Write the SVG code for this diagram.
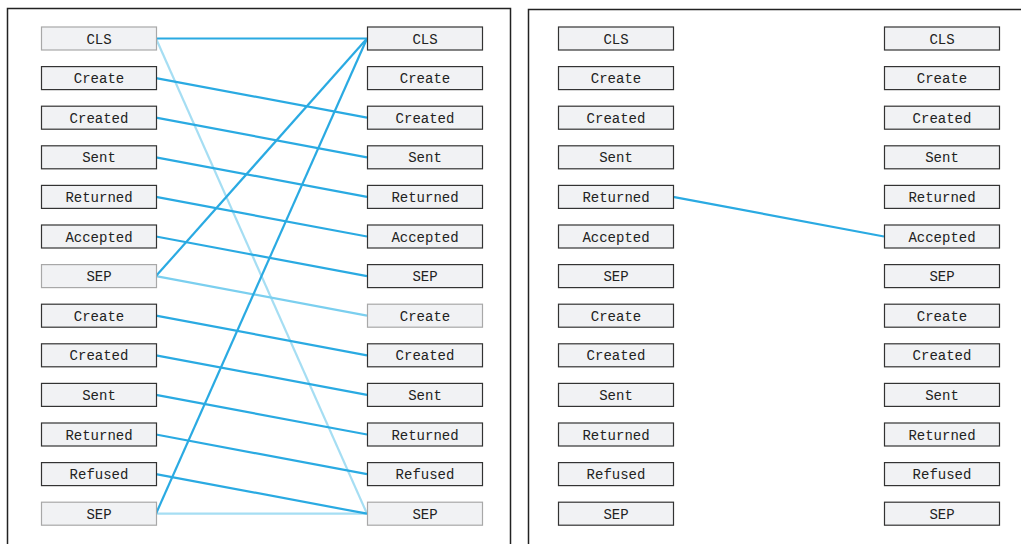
<svg xmlns="http://www.w3.org/2000/svg" width="1021" height="544" viewBox="0 0 1021 544">
  <style>
    .panel { fill: #ffffff; stroke: #222222; stroke-width: 1.5; }
    .box { fill: #f1f2f4; stroke: #333333; stroke-width: 1.2; }
    .box.faint { stroke: #a8a8a8; }
    .lbl { font-family: "Liberation Mono", "DejaVu Sans Mono", monospace; font-size: 14px; fill: #222222; text-anchor: middle; dominant-baseline: central; }
    .link { fill: none; stroke: #2aaae2; stroke-width: 2.2; }
    .link.pale { stroke: #a6def3; }
    .link.mid { stroke: #7bcfef; }
  </style>

  <!-- panels -->
  <rect class="panel" x="7.5" y="8.5" width="503" height="560"/>
  <rect class="panel" x="528.5" y="9.5" width="520" height="560"/>

  <!-- connectors -->
  <g id="connectors">
    <!-- left panel -->
    <line class="link pale" x1="156" y1="38.5" x2="367" y2="513.7"/>
    <line class="link pale" x1="156" y1="513.7" x2="367" y2="513.7"/>
    <line class="link mid" x1="156" y1="276.1" x2="367" y2="315.7"/>
    <line class="link" x1="156" y1="38.5" x2="367" y2="38.5"/>
    <line class="link" x1="156" y1="78.1" x2="367" y2="117.7"/>
    <line class="link" x1="156" y1="117.7" x2="367" y2="157.3"/>
    <line class="link" x1="156" y1="157.3" x2="367" y2="196.9"/>
    <line class="link" x1="156" y1="196.9" x2="367" y2="236.5"/>
    <line class="link" x1="156" y1="236.5" x2="367" y2="276.1"/>
    <line class="link" x1="156" y1="276.1" x2="367" y2="38.5"/>
    <line class="link" x1="156" y1="315.7" x2="367" y2="355.3"/>
    <line class="link" x1="156" y1="355.3" x2="367" y2="394.9"/>
    <line class="link" x1="156" y1="394.9" x2="367" y2="434.5"/>
    <line class="link" x1="156" y1="434.5" x2="367" y2="474.1"/>
    <line class="link" x1="156" y1="474.1" x2="367" y2="513.7"/>
    <line class="link" x1="156" y1="513.7" x2="367" y2="38.5"/>
    <!-- right panel -->
    <line class="link" x1="673" y1="196.9" x2="884" y2="236.5"/>
  </g>

  <!-- left panel, source column -->
  <g id="a0"><rect class="box faint" x="41.5" y="27" width="115" height="23"/><text class="lbl" x="99" y="39.5">CLS</text></g>
  <g id="a1"><rect class="box" x="41.5" y="66.6" width="115" height="23"/><text class="lbl" x="99" y="79.1">Create</text></g>
  <g id="a2"><rect class="box" x="41.5" y="106.2" width="115" height="23"/><text class="lbl" x="99" y="118.7">Created</text></g>
  <g id="a3"><rect class="box" x="41.5" y="145.8" width="115" height="23"/><text class="lbl" x="99" y="158.3">Sent</text></g>
  <g id="a4"><rect class="box" x="41.5" y="185.4" width="115" height="23"/><text class="lbl" x="99" y="197.9">Returned</text></g>
  <g id="a5"><rect class="box" x="41.5" y="225" width="115" height="23"/><text class="lbl" x="99" y="237.5">Accepted</text></g>
  <g id="a6"><rect class="box faint" x="41.5" y="264.6" width="115" height="23"/><text class="lbl" x="99" y="277.1">SEP</text></g>
  <g id="a7"><rect class="box" x="41.5" y="304.2" width="115" height="23"/><text class="lbl" x="99" y="316.7">Create</text></g>
  <g id="a8"><rect class="box" x="41.5" y="343.8" width="115" height="23"/><text class="lbl" x="99" y="356.3">Created</text></g>
  <g id="a9"><rect class="box" x="41.5" y="383.4" width="115" height="23"/><text class="lbl" x="99" y="395.9">Sent</text></g>
  <g id="a10"><rect class="box" x="41.5" y="423" width="115" height="23"/><text class="lbl" x="99" y="435.5">Returned</text></g>
  <g id="a11"><rect class="box" x="41.5" y="462.6" width="115" height="23"/><text class="lbl" x="99" y="475.1">Refused</text></g>
  <g id="a12"><rect class="box faint" x="41.5" y="502.2" width="115" height="23"/><text class="lbl" x="99" y="514.7">SEP</text></g>

  <!-- left panel, target column -->
  <g id="b0"><rect class="box" x="367.5" y="27" width="115" height="23"/><text class="lbl" x="425" y="39.5">CLS</text></g>
  <g id="b1"><rect class="box" x="367.5" y="66.6" width="115" height="23"/><text class="lbl" x="425" y="79.1">Create</text></g>
  <g id="b2"><rect class="box" x="367.5" y="106.2" width="115" height="23"/><text class="lbl" x="425" y="118.7">Created</text></g>
  <g id="b3"><rect class="box" x="367.5" y="145.8" width="115" height="23"/><text class="lbl" x="425" y="158.3">Sent</text></g>
  <g id="b4"><rect class="box" x="367.5" y="185.4" width="115" height="23"/><text class="lbl" x="425" y="197.9">Returned</text></g>
  <g id="b5"><rect class="box" x="367.5" y="225" width="115" height="23"/><text class="lbl" x="425" y="237.5">Accepted</text></g>
  <g id="b6"><rect class="box" x="367.5" y="264.6" width="115" height="23"/><text class="lbl" x="425" y="277.1">SEP</text></g>
  <g id="b7"><rect class="box faint" x="367.5" y="304.2" width="115" height="23"/><text class="lbl" x="425" y="316.7">Create</text></g>
  <g id="b8"><rect class="box" x="367.5" y="343.8" width="115" height="23"/><text class="lbl" x="425" y="356.3">Created</text></g>
  <g id="b9"><rect class="box" x="367.5" y="383.4" width="115" height="23"/><text class="lbl" x="425" y="395.9">Sent</text></g>
  <g id="b10"><rect class="box" x="367.5" y="423" width="115" height="23"/><text class="lbl" x="425" y="435.5">Returned</text></g>
  <g id="b11"><rect class="box" x="367.5" y="462.6" width="115" height="23"/><text class="lbl" x="425" y="475.1">Refused</text></g>
  <g id="b12"><rect class="box faint" x="367.5" y="502.2" width="115" height="23"/><text class="lbl" x="425" y="514.7">SEP</text></g>

  <!-- right panel, source column -->
  <g id="c0"><rect class="box" x="558.5" y="27" width="115" height="23"/><text class="lbl" x="616" y="39.5">CLS</text></g>
  <g id="c1"><rect class="box" x="558.5" y="66.6" width="115" height="23"/><text class="lbl" x="616" y="79.1">Create</text></g>
  <g id="c2"><rect class="box" x="558.5" y="106.2" width="115" height="23"/><text class="lbl" x="616" y="118.7">Created</text></g>
  <g id="c3"><rect class="box" x="558.5" y="145.8" width="115" height="23"/><text class="lbl" x="616" y="158.3">Sent</text></g>
  <g id="c4"><rect class="box" x="558.5" y="185.4" width="115" height="23"/><text class="lbl" x="616" y="197.9">Returned</text></g>
  <g id="c5"><rect class="box" x="558.5" y="225" width="115" height="23"/><text class="lbl" x="616" y="237.5">Accepted</text></g>
  <g id="c6"><rect class="box" x="558.5" y="264.6" width="115" height="23"/><text class="lbl" x="616" y="277.1">SEP</text></g>
  <g id="c7"><rect class="box" x="558.5" y="304.2" width="115" height="23"/><text class="lbl" x="616" y="316.7">Create</text></g>
  <g id="c8"><rect class="box" x="558.5" y="343.8" width="115" height="23"/><text class="lbl" x="616" y="356.3">Created</text></g>
  <g id="c9"><rect class="box" x="558.5" y="383.4" width="115" height="23"/><text class="lbl" x="616" y="395.9">Sent</text></g>
  <g id="c10"><rect class="box" x="558.5" y="423" width="115" height="23"/><text class="lbl" x="616" y="435.5">Returned</text></g>
  <g id="c11"><rect class="box" x="558.5" y="462.6" width="115" height="23"/><text class="lbl" x="616" y="475.1">Refused</text></g>
  <g id="c12"><rect class="box" x="558.5" y="502.2" width="115" height="23"/><text class="lbl" x="616" y="514.7">SEP</text></g>

  <!-- right panel, target column -->
  <g id="d0"><rect class="box" x="884.5" y="27" width="115" height="23"/><text class="lbl" x="942" y="39.5">CLS</text></g>
  <g id="d1"><rect class="box" x="884.5" y="66.6" width="115" height="23"/><text class="lbl" x="942" y="79.1">Create</text></g>
  <g id="d2"><rect class="box" x="884.5" y="106.2" width="115" height="23"/><text class="lbl" x="942" y="118.7">Created</text></g>
  <g id="d3"><rect class="box" x="884.5" y="145.8" width="115" height="23"/><text class="lbl" x="942" y="158.3">Sent</text></g>
  <g id="d4"><rect class="box" x="884.5" y="185.4" width="115" height="23"/><text class="lbl" x="942" y="197.9">Returned</text></g>
  <g id="d5"><rect class="box" x="884.5" y="225" width="115" height="23"/><text class="lbl" x="942" y="237.5">Accepted</text></g>
  <g id="d6"><rect class="box" x="884.5" y="264.6" width="115" height="23"/><text class="lbl" x="942" y="277.1">SEP</text></g>
  <g id="d7"><rect class="box" x="884.5" y="304.2" width="115" height="23"/><text class="lbl" x="942" y="316.7">Create</text></g>
  <g id="d8"><rect class="box" x="884.5" y="343.8" width="115" height="23"/><text class="lbl" x="942" y="356.3">Created</text></g>
  <g id="d9"><rect class="box" x="884.5" y="383.4" width="115" height="23"/><text class="lbl" x="942" y="395.9">Sent</text></g>
  <g id="d10"><rect class="box" x="884.5" y="423" width="115" height="23"/><text class="lbl" x="942" y="435.5">Returned</text></g>
  <g id="d11"><rect class="box" x="884.5" y="462.6" width="115" height="23"/><text class="lbl" x="942" y="475.1">Refused</text></g>
  <g id="d12"><rect class="box" x="884.5" y="502.2" width="115" height="23"/><text class="lbl" x="942" y="514.7">SEP</text></g>
</svg>
